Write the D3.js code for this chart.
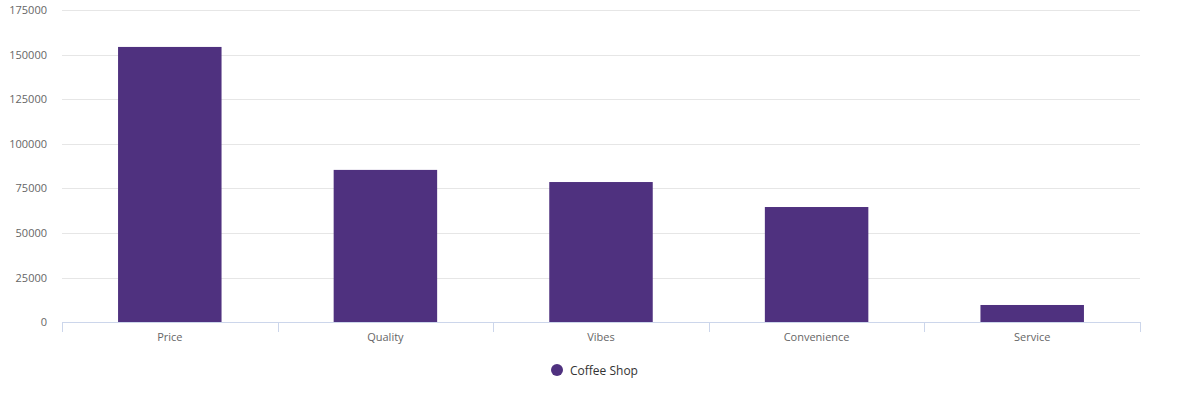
<!DOCTYPE html>
<html>
<head>
<meta charset="utf-8">
<script src="https://cdn.jsdelivr.net/npm/d3@7"></script>
<style>
  body { margin: 0; background: #fff; font-family: "Open Sans", sans-serif; }
</style>
</head>
<body>
<div id="chartArea"></div>
<script>
// chart data
var categories = ['Price', 'Quality', 'Vibes', 'Convenience', 'Service'];
var coffeeShop = [154300, 85400, 78600, 64600, 9700];
var yTicks = [0, 25000, 50000, 75000, 100000, 125000, 150000, 175000];
var seriesName = 'Coffee Shop';

var w = 1190, h = 400;
var plotLeft = 62, plotRight = 1140, plotTop = 10, plotBottom = 322.3;

var svg = d3.select('#chartArea').append('svg')
    .attr('width', w)
    .attr('height', h);

var xScale = d3.scaleBand()
    .domain(categories)
    .range([plotLeft, plotRight])
    .paddingInner(0.52)
    .paddingOuter(0.26);

var xBand = d3.scaleBand()
    .domain(categories)
    .range([plotLeft, plotRight]);

var yScale = d3.scaleLinear()
    .domain([0, 175000])
    .range([plotBottom, plotTop]);

// gridlines + y labels
svg.append('g').selectAll('line')
    .data(yTicks.slice(1))
    .enter()
    .append('line')
    .attr('x1', plotLeft)
    .attr('x2', plotRight)
    .attr('y1', function (d) { return Math.round(yScale(d)) + 0.5; })
    .attr('y2', function (d) { return Math.round(yScale(d)) + 0.5; })
    .attr('stroke', '#e6e6e6')
    .attr('stroke-width', 1);

svg.append('g').selectAll('text')
    .data(yTicks)
    .enter()
    .append('text')
    .attr('x', 47)
    .attr('y', function (d) { return yScale(d) + 4; })
    .attr('text-anchor', 'end')
    .attr('font-size', 11)
    .attr('fill', '#666')
    .text(function (d) { return d; });

// bars
svg.append('g').selectAll('rect')
    .data(coffeeShop)
    .enter()
    .append('rect')
    .attr('x', function (d, i) { return xScale(categories[i]); })
    .attr('y', function (d) { return yScale(d); })
    .attr('width', xScale.bandwidth())
    .attr('height', function (d) { return plotBottom - yScale(d); })
    .attr('fill', '#4f317f');

// x axis line + ticks
var xAxis = svg.append('g');
xAxis.append('line')
    .attr('x1', plotLeft)
    .attr('x2', plotRight)
    .attr('y1', 322.5)
    .attr('y2', 322.5)
    .attr('stroke', '#ccd6eb');

var tickPos = categories.map(function (c) { return xBand(c); }).concat([plotRight]);
xAxis.selectAll('line.tick')
    .data(tickPos)
    .enter()
    .append('line')
    .attr('class', 'tick')
    .attr('x1', function (d) { return Math.round(d) + 0.5; })
    .attr('x2', function (d) { return Math.round(d) + 0.5; })
    .attr('y1', 322)
    .attr('y2', 332)
    .attr('stroke', '#ccd6eb');

xAxis.selectAll('text')
    .data(categories)
    .enter()
    .append('text')
    .attr('x', function (d) { return xBand(d) + xBand.bandwidth() / 2; })
    .attr('y', 341)
    .attr('text-anchor', 'middle')
    .attr('font-size', 11)
    .attr('fill', '#666')
    .text(function (d) { return d; });

// legend
var legend = svg.append('g');
legend.append('circle')
    .attr('cx', 557)
    .attr('cy', 370)
    .attr('r', 6)
    .attr('fill', '#4f317f');
legend.append('text')
    .attr('x', 570)
    .attr('y', 374.5)
    .attr('font-size', 12)
    .attr('fill', '#333')
    .text(seriesName);
</script>
</body>
</html>
